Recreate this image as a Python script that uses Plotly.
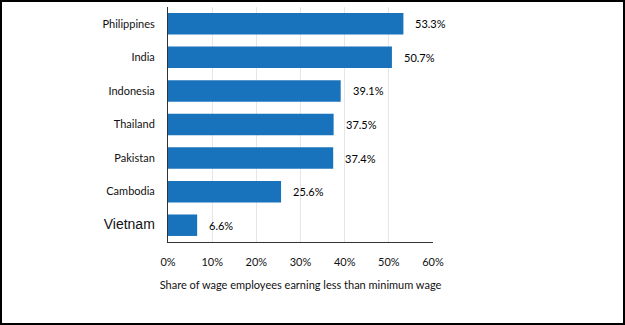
import plotly.graph_objects as go

countries = ["Philippines", "India", "Indonesia", "Thailand", "Pakistan", "Cambodia", "Vietnam"]
shares = [53.3, 50.7, 39.1, 37.5, 37.4, 25.6, 6.6]
x_ticks = [0, 10, 20, 30, 40, 50, 60]
x_tick_labels = ["0%", "10%", "20%", "30%", "40%", "50%", "60%"]
x_title = "Share of wage employees earning less than minimum wage"

W, H = 625, 325
L, R, T, B = 168, 192, 7, 83

tick_text = [
    c if c != "Vietnam"
    else '<span style="font-family:Liberation Sans, Arial;font-size:14px">Vietnam</span>'
    for c in countries
]

fig = go.Figure(go.Bar(
    x=shares,
    y=countries,
    orientation="h",
    marker=dict(color="#1873bc", line=dict(width=0)),
    width=0.64,
    hoverinfo="x+y",
))

# value labels placed just past the end of each bar
for c, v in zip(countries, shares):
    fig.add_annotation(
        x=v, y=c, text=f"{v:.1f}%", showarrow=False,
        xanchor="left", xshift=10,
        font=dict(family="Lato", size=11, color="#000"),
    )

# frame around the whole figure, expressed in paper units of the plot area
pw, ph = W - L - R, H - T - B
fig.add_shape(
    type="rect", xref="paper", yref="paper",
    x0=(-L + 1) / pw, x1=(W - L - 1) / pw,
    y0=(-B + 1) / ph, y1=(H - B - 1) / ph,
    line=dict(color="black", width=2), fillcolor="rgba(0,0,0,0)", layer="above",
)

fig.update_layout(
    width=W, height=H,
    margin=dict(l=L, r=R, t=T, b=B),
    paper_bgcolor="white", plot_bgcolor="white",
    showlegend=False,
    font=dict(family="Lato", size=11, color="#111"),
    xaxis=dict(
        range=[0, 60], tickvals=x_ticks, ticktext=x_tick_labels,
        showgrid=True, gridcolor="#e6e6e6", gridwidth=1,
        showline=True, linecolor="#333", linewidth=1,
        zeroline=False, ticks="", ticklabelstandoff=10,
        title=dict(text=x_title, font=dict(size=11), standoff=14),
        fixedrange=True,
    ),
    yaxis=dict(
        categoryorder="array", categoryarray=countries[::-1],
        tickvals=countries, ticktext=tick_text,
        showline=True, linecolor="#333", linewidth=1,
        showgrid=False, ticks="", ticklabelstandoff=10,
        fixedrange=True,
    ),
)

fig.write_html("out.html")
